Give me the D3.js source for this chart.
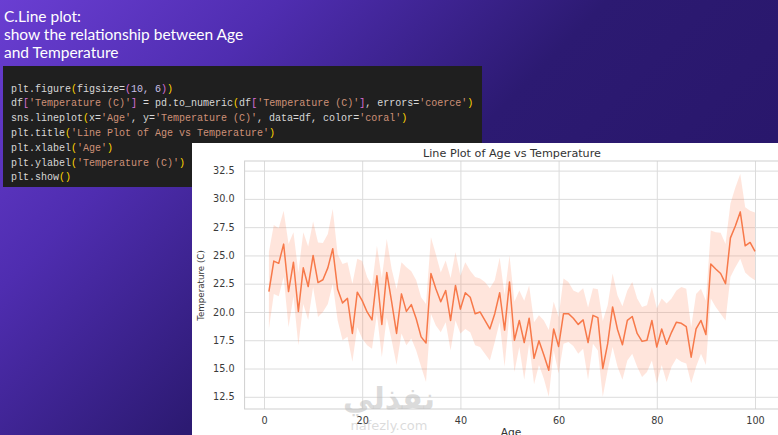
<!DOCTYPE html>
<html>
<head>
<meta charset="utf-8">
<script src="https://cdn.jsdelivr.net/npm/d3@7"></script>
<style>
html,body{margin:0;padding:0;background:#2a1868;overflow:hidden;}
svg{display:block;}
</style>
</head>
<body>
<svg id="c" width="778" height="435"></svg>
<script>
// ---------- data ----------
const ages = d3.range(1, 101);
const meanTemp = [21.8,24.5,24.3,26.0,21.8,24.4,20.05,23.9,22.25,25.0,
  22.6,22.85,23.9,25.6,22.0,20.8,21.2,18.1,21.75,21.0,
  20.0,19.3,23.2,18.9,23.5,20.9,18.1,21.6,20.05,20.65,
  19.4,17.8,17.25,23.4,22.05,20.9,21.9,19.25,22.35,20.25,
  21.7,21.3,19.85,20.0,19.25,18.5,19.85,21.7,18.4,22.65,
  17.5,19.25,17.3,19.45,15.9,17.45,16.2,14.85,18.5,16.95,
  19.85,19.85,19.45,18.9,19.3,17.3,19.7,19.5,15.0,17.2,
  20.45,18.45,17.1,19.25,19.6,18.1,17.4,17.5,19.25,16.9,
  18.5,17.15,18.2,19.1,19.0,18.7,16.0,18.5,19.25,18.0,
  24.25,23.8,23.4,22.5,26.55,27.6,28.85,25.85,26.15,25.35];
const upperCI = [25.3,27.7,27.4,28.95,26.0,27.05,23.5,27.05,25.8,28.0,
  26.15,26.1,26.9,29.1,25.1,24.25,24.4,22.5,24.7,24.5,
  23.1,22.3,25.85,23.0,26.45,23.8,22.0,24.4,23.95,23.6,
  22.8,21.3,20.7,26.6,25.1,23.5,24.55,23.0,25.3,23.2,
  24.4,23.65,23.1,22.95,22.65,22.1,22.8,24.8,21.5,25.0,
  20.9,21.9,21.0,22.35,19.1,19.7,19.25,18.4,20.9,19.55,
  22.95,22.65,21.9,21.7,22.1,20.4,22.1,22.0,19.2,20.6,
  23.4,21.45,20.5,21.9,22.65,21.2,20.45,20.6,22.2,20.3,
  21.2,20.75,21.2,21.9,22.2,22.05,18.65,21.6,22.05,21.0,
  27.2,27.05,27.0,26.0,29.6,31.0,32.2,29.25,28.95,28.8];
const lowerCI = [18.5,21.6,21.4,23.1,18.65,21.4,17.05,20.7,19.3,22.2,
  19.55,20.0,20.7,22.5,19.25,17.5,17.8,15.6,18.65,17.65,
  17.05,16.75,19.8,16.0,19.5,17.5,15.3,18.1,17.05,17.65,
  16.6,15.15,13.8,19.85,18.8,18.2,19.1,16.6,19.25,18.1,
  18.5,18.2,17.05,16.9,16.3,15.7,17.35,19.1,15.15,19.85,
  14.7,16.9,14.0,17.2,13.6,15.3,14.1,12.5,16.6,14.55,
  17.2,17.35,17.0,16.3,16.75,14.0,17.2,16.6,12.5,14.85,
  16.9,15.15,14.0,15.7,16.3,15.15,14.25,14.7,15.7,13.7,
  15.3,13.8,15.15,15.9,15.6,15.45,13.7,15.15,16.3,15.3,
  21.2,20.45,19.85,19.25,23.1,23.95,24.7,23.5,23.1,22.8];
const xTicks = [0, 20, 40, 60, 80, 100];
const yTicks = [12.5, 15.0, 17.5, 20.0, 22.5, 25.0, 27.5, 30.0, 32.5];
const slideTitle = ["C.Line plot:", "show the relationship between Age", "and Temperature"];
const chartTitle = "Line Plot of Age vs Temperature";
const xLabel = "Age";
const yLabel = "Temperature (C)";

// code tokens: [text, colour key]
const codeLines = [
  [["plt.figure","t"],["(","y"],["figsize=","t"],["(","p"],["10, 6","n"],[")","p"],[")","y"]],
  [["df","t"],["[","p"],["'Temperature (C)'","s"],["]","p"],[" = pd.to_numeric","t"],["(","y"],["df","t"],["[","p"],["'Temperature (C)'","s"],["]","p"],[", errors=","t"],["'coerce'","s"],[")","y"]],
  [["sns.lineplot","t"],["(","y"],["x=","t"],["'Age'","s"],[", y=","t"],["'Temperature (C)'","s"],[", data=df, color=","t"],["'coral'","s"],[")","y"]],
  [["plt.title","t"],["(","y"],["'Line Plot of Age vs Temperature'","s"],[")","y"]],
  [["plt.xlabel","t"],["(","y"],["'Age'","s"],[")","y"]],
  [["plt.ylabel","t"],["(","y"],["'Temperature (C)'","s"],[")","y"]],
  [["plt.show","t"],["()","y"]]
];
const codeColors = {t:"#d8d8d8", y:"#ffd700", p:"#da70d6", s:"#ce9178", n:"#c9c0e6"};

// ---------- drawing ----------
const svg = d3.select("#c");
const defs = svg.append("defs");
const grad = defs.append("linearGradient").attr("id","bg")
  .attr("x1","0").attr("y1","0").attr("x2","1").attr("y2","0.55");
grad.append("stop").attr("offset","0").attr("stop-color","#6a3ed2");
grad.append("stop").attr("offset","0.28").attr("stop-color","#4f2db0");
grad.append("stop").attr("offset","0.6").attr("stop-color","#2c1a72");
grad.append("stop").attr("offset","1").attr("stop-color","#28166a");
svg.append("rect").attr("width",778).attr("height",435).attr("fill","url(#bg)");

// slide title
svg.append("g").selectAll("text").data(slideTitle).join("text")
  .attr("x",4).attr("y",(d,i)=>22+i*18)
  .attr("fill","#ffffff").attr("font-family","Lato, 'Open Sans', sans-serif")
  .attr("font-size",15.5).text(d=>d);

// code block
svg.append("rect").attr("x",3).attr("y",66).attr("width",479).attr("height",121).attr("fill","#1f1f1f");
const codeG = svg.append("g").attr("font-family","'Liberation Mono','DejaVu Sans Mono',monospace").attr("font-size",10);
codeLines.forEach((toks,i)=>{
  const t = codeG.append("text").attr("x",11).attr("y",91.5+i*14.8).attr("xml:space","preserve");
  toks.forEach(tk=>t.append("tspan").attr("fill",codeColors[tk[1]]).text(tk[0]));
});

// chart panel
defs.append("clipPath").attr("id","panel").append("rect")
  .attr("x",192).attr("y",143).attr("width",586).attr("height",292);
const panel = svg.append("g").attr("clip-path","url(#panel)");
panel.append("rect").attr("x",192).attr("y",143).attr("width",586).attr("height",292).attr("fill","#ffffff");

const L = 244.6, R = 779.3, T = 161, B = 409;
const x = d3.scaleLinear().domain([-3.95, 104.95]).range([L, R]);
const y = d3.scaleLinear().domain([11.42, 33.35]).range([B, T]);

// grid
panel.append("g").attr("transform",`translate(0,${B})`)
  .call(d3.axisBottom(x).tickValues(xTicks).tickSize(-(B-T)).tickFormat(""))
  .call(g=>g.select(".domain").remove())
  .call(g=>g.selectAll("line").attr("stroke","#dcdcdc").attr("stroke-width",1));
panel.append("g").attr("transform",`translate(${L},0)`)
  .call(d3.axisLeft(y).tickValues(yTicks).tickSize(-(R-L)).tickFormat(""))
  .call(g=>g.select(".domain").remove())
  .call(g=>g.selectAll("line").attr("stroke","#dcdcdc").attr("stroke-width",1));

// spines
panel.append("rect").attr("x",L).attr("y",T).attr("width",R-L).attr("height",B-T)
  .attr("fill","none").attr("stroke","#cfcfcf").attr("stroke-width",1);

// CI band and line
const rows = ages.map((a,i)=>({a, m:meanTemp[i], lo:lowerCI[i], hi:upperCI[i]}));
panel.append("path").datum(rows)
  .attr("d", d3.area().x(d=>x(d.a)).y0(d=>y(d.lo)).y1(d=>y(d.hi)))
  .attr("fill","#ff7f50").attr("fill-opacity",0.2).attr("stroke","none");
panel.append("path").datum(rows)
  .attr("d", d3.line().x(d=>x(d.a)).y(d=>y(d.m)))
  .attr("fill","none").attr("stroke","#f7794a").attr("stroke-width",1.5).attr("stroke-linejoin","round");

// watermark
panel.append("text").attr("x",389).attr("y",409).attr("text-anchor","middle")
  .attr("font-family","'DejaVu Sans', sans-serif").attr("font-weight","bold").attr("font-size",30)
  .attr("fill","#bdbdbd").attr("fill-opacity",0.55).text("نفذلي");
panel.append("text").attr("x",389).attr("y",430).attr("text-anchor","middle")
  .attr("font-family","'DejaVu Sans', sans-serif").attr("font-size",13)
  .attr("fill","#bdbdbd").attr("fill-opacity",0.55).text("nafezly.com");

// tick labels
const tickFont = g=>g.attr("font-family","'DejaVu Sans', sans-serif").attr("font-size",9.7);
panel.append("g").attr("transform",`translate(0,${B})`)
  .call(d3.axisBottom(x).tickValues(xTicks).tickSize(0).tickPadding(8).tickFormat(d3.format("d")))
  .call(tickFont)
  .call(g=>g.select(".domain").remove())
  .call(g=>g.selectAll("text").attr("fill","#3a3a3a"));
panel.append("g").attr("transform",`translate(${L},0)`)
  .call(d3.axisLeft(y).tickValues(yTicks).tickSize(0).tickPadding(10).tickFormat(d3.format(".1f")))
  .call(tickFont)
  .call(g=>g.select(".domain").remove())
  .call(g=>g.selectAll("text").attr("fill","#3a3a3a"));

// titles
panel.append("text").attr("x",512).attr("y",157.4).attr("text-anchor","middle")
  .attr("font-family","'DejaVu Sans', sans-serif").attr("font-size",11.2).attr("fill","#333")
  .text(chartTitle);
panel.append("text").attr("x",511).attr("y",436).attr("text-anchor","middle")
  .attr("font-family","'DejaVu Sans', sans-serif").attr("font-size",10.7).attr("fill","#333")
  .text(xLabel);
panel.append("text").attr("transform","translate(204,285.5) rotate(-90)").attr("text-anchor","middle")
  .attr("font-family","'DejaVu Sans', sans-serif").attr("font-size",8.7).attr("fill","#333")
  .text(yLabel);
</script>
</body>
</html>
